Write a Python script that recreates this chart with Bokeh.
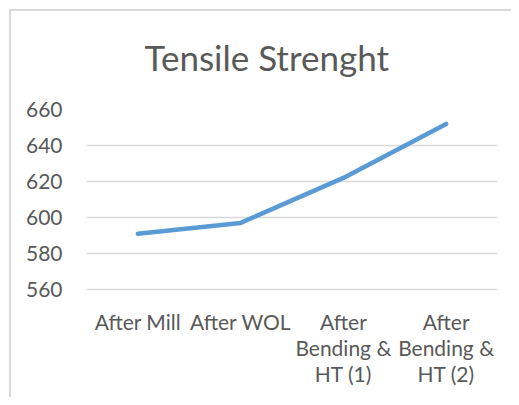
from bokeh.plotting import figure
from bokeh.models import FixedTicker, Range1d
from bokeh.embed import file_html
from bokeh.resources import INLINE

categories = ["After Mill", "After WOL", "After Bending & HT (1)", "After Bending & HT (2)"]
tick_labels = ["After Mill", "After WOL", "After\nBending &\nHT (1)", "After\nBending &\nHT (2)"]
tensile = [591, 597, 622, 652]
y_ticks = [560, 580, 600, 620, 640, 660]

FONT = "Lato"
TXT = "#595959"
GRID = "#D9D9D9"

xs = [i + 0.5 for i in range(len(categories))]

p = figure(width=511, height=397, output_backend="svg", toolbar_location=None,
           x_range=Range1d(0, len(categories)), y_range=Range1d(560, 660),
           min_border_left=86, min_border_right=14, min_border_top=109, min_border_bottom=108,
           title="Tensile Strenght")
p.outline_line_color = None
p.background_fill_color = "white"
p.border_fill_alpha = 0
# chart-area border along the left and top edges
p.styles = {
    "background": ("linear-gradient(#D9D9D9,#D9D9D9) 9px 9px / 2px 100% no-repeat, "
                   "linear-gradient(#D9D9D9,#D9D9D9) 9px 9px / 100% 2px no-repeat, white"),
}

p.title.text_font = FONT
p.title.text_font_size = "35px"
p.title.text_font_style = "normal"
p.title.text_color = TXT
p.title.align = "left"
p.title.offset = 58
p.title.standoff = 63

p.line(xs, tensile, line_color="#5B9BD5", line_width=4.5, line_cap="round", line_join="round")

p.xaxis.ticker = FixedTicker(ticks=xs)
p.xaxis.major_label_overrides = {x: lab for x, lab in zip(xs, tick_labels)}
p.xaxis.axis_line_color = GRID
p.xaxis.axis_line_width = 1.5
p.xaxis.major_tick_line_color = None
p.xaxis.minor_tick_line_color = None
p.xaxis.major_label_text_font = FONT
p.xaxis.major_label_text_font_size = "21px"
p.xaxis.major_label_text_color = TXT
p.xaxis.major_label_text_line_height = 1.05
p.xaxis.major_label_standoff = 13

p.yaxis.ticker = FixedTicker(ticks=y_ticks)
p.yaxis.axis_line_color = None
p.yaxis.major_tick_line_color = None
p.yaxis.minor_tick_line_color = None
p.yaxis.major_label_text_font = FONT
p.yaxis.major_label_text_font_size = "21px"
p.yaxis.major_label_text_color = TXT
p.yaxis.major_label_standoff = 18

p.xgrid.grid_line_color = None
p.ygrid.ticker = FixedTicker(ticks=y_ticks)
p.ygrid.grid_line_color = GRID
p.ygrid.grid_line_width = 1.5

open("out.html", "w").write(file_html(p, INLINE))
